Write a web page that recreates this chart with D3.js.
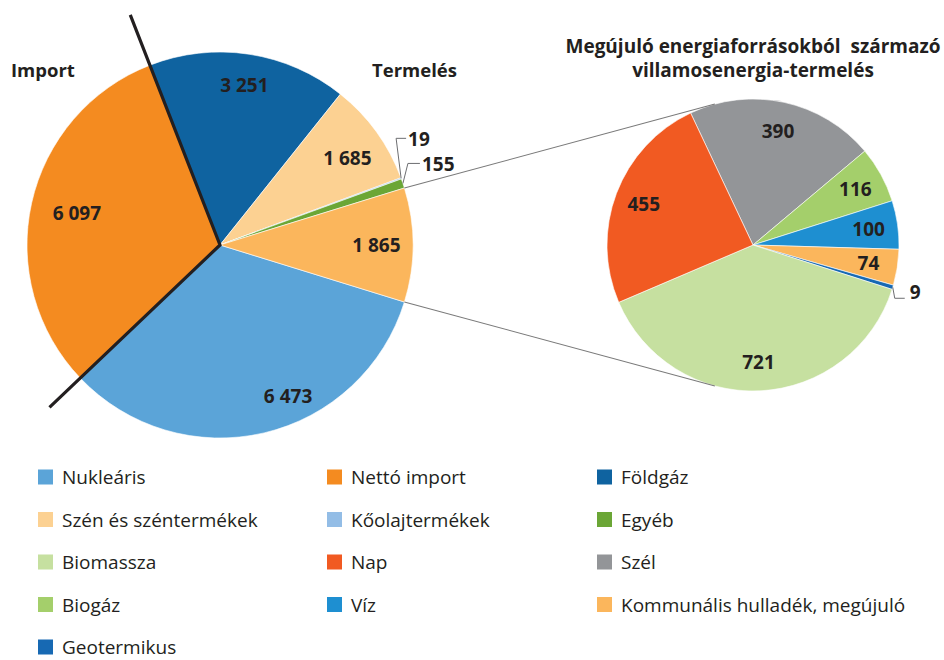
<!DOCTYPE html>
<html><head><meta charset="utf-8">
<script src="https://cdn.jsdelivr.net/npm/d3@7"></script>
<style>
body{margin:0;background:#fff}
text{font-family:"Open Sans","Noto Sans",sans-serif;fill:#231f20}
</style>
</head><body>
<svg id="c" width="944" height="660"></svg>
<script>
// ---- data ----
const mainCategories = ["Nukleáris","Nettó import","Földgáz","Szén és széntermékek","Kőolajtermékek","Egyéb","Megújuló"];
const mainValues = [6473, 6097, 3251, 1685, 19, 155, 1865];
const mainColors = ["#5ba4d8","#f48b20","#0f63a0","#fcd192","#93bde6","#6ba636","#fbb65c"];

const renewCategories = ["Szél","Biogáz","Víz","Kommunális hulladék, megújuló","Geotermikus","Biomassza","Nap"];
const renewValues = [390, 116, 100, 74, 9, 721, 455];
const renewColors = ["#939598","#a4cf6b","#1e8fd1","#fbb65c","#1769b3","#c6e0a0","#f15a22"];

const legendOrder = ["Nukleáris","Nettó import","Földgáz","Szén és széntermékek","Kőolajtermékek","Egyéb",
  "Biomassza","Nap","Szél","Biogáz","Víz","Kommunális hulladék, megújuló","Geotermikus"];

const titleLines = ["Megújuló energiaforrásokból  származó","villamosenergia-termelés"];

// ---- layout ----
const svg = d3.select("#c");
const deg = Math.PI/180;
const M = {cx:220, cy:245, r:193};
const R = {cx:753, cy:245, r:146, start:-25.3};
const fmt = d3.formatLocale({decimal:",", thousands:" ", grouping:[3], currency:["",""]}).format(",");
const numSize = 19;

const colorOf = {};
mainCategories.forEach((c,i)=>colorOf[c]=mainColors[i]);
renewCategories.forEach((c,i)=>colorOf[c]=renewColors[i]);

// main pie: renewables slice centred on 3 o'clock
const total = d3.sum(mainValues);
const renewSpan = 2*Math.PI*mainValues[6]/total;
const mainStart = Math.PI/2 + renewSpan/2;
const mainPie = d3.pie().sort(null).value(d=>d).startAngle(mainStart).endAngle(mainStart+2*Math.PI);
const mainArcs = mainPie(mainValues);
const mainArc = d3.arc().innerRadius(0).outerRadius(M.r);

const gM = svg.append("g").attr("transform",`translate(${M.cx},${M.cy})`);
gM.selectAll("path").data(mainArcs).join("path")
  .attr("d", mainArc).attr("fill",(d,i)=>mainColors[i])
  .attr("stroke","#fff").attr("stroke-width",0.6);

// right pie
const renewPie = d3.pie().sort(null).value(d=>d).startAngle(R.start*deg).endAngle(R.start*deg+2*Math.PI);
const renewArcs = renewPie(renewValues);
const renewArc = d3.arc().innerRadius(0).outerRadius(R.r);
const gR = svg.append("g").attr("transform",`translate(${R.cx},${R.cy})`);
gR.selectAll("path").data(renewArcs).join("path")
  .attr("d", renewArc).attr("fill",(d,i)=>renewColors[i])
  .attr("stroke","#fff").attr("stroke-width",0.6);

// helpers
function polar(cx,cy,r,a){ return [cx + r*Math.sin(a), cy - r*Math.cos(a)]; }

// connector tangent lines from renewables slice edges to right pie
const ra = mainArcs[6];
function tangent(P, upper){
  const dx=P[0]-R.cx, dy=P[1]-R.cy, d=Math.hypot(dx,dy);
  const th=Math.atan2(dy,dx), al=Math.acos(R.r/d);
  const c1=[R.cx+R.r*Math.cos(th+al), R.cy+R.r*Math.sin(th+al)];
  const c2=[R.cx+R.r*Math.cos(th-al), R.cy+R.r*Math.sin(th-al)];
  return upper ? (c1[1]<c2[1]?c1:c2) : (c1[1]>c2[1]?c1:c2);
}
const pUp = polar(M.cx,M.cy,M.r,ra.startAngle);
const pDn = polar(M.cx,M.cy,M.r,ra.endAngle);
[[pUp,tangent(pUp,true)],[pDn,tangent(pDn,false)]].forEach(s=>{
  svg.append("line").attr("x1",s[0][0]).attr("y1",s[0][1]).attr("x2",s[1][0]).attr("y2",s[1][1])
    .attr("stroke","#7a7a7a").attr("stroke-width",1.1);
});

// black divider between import and production
const aImpStart = mainArcs[1].startAngle, aImpEnd = mainArcs[1].endAngle;
const e1 = polar(M.cx,M.cy,M.r*1.22,aImpStart), e2 = polar(M.cx,M.cy,M.r*1.28,aImpEnd);
svg.append("path").attr("d",`M${e1[0]},${e1[1]}L${M.cx},${M.cy}L${e2[0]},${e2[1]}`)
  .attr("fill","none").attr("stroke","#231f20").attr("stroke-width",3.2);

// main labels
const mainLabelR = [0.86,0.76,0.84,0.8,0,0,0.81];
const mainLabelShift = [-11,0,0,1.5,0,0,0];
mainArcs.forEach((d,i)=>{
  if (mainLabelR[i]===0) return;
  const a=(d.startAngle+d.endAngle)/2 + mainLabelShift[i]*deg;
  const p=polar(M.cx,M.cy,M.r*mainLabelR[i],a);
  svg.append("text").attr("x",p[0]).attr("y",p[1]).attr("text-anchor","middle")
    .attr("dominant-baseline","central").attr("font-weight","bold").attr("font-size",numSize)
    .text(fmt(mainValues[i]));
});
// leader labels for the tiny main slices
const leaders = [{i:4, dx:-5, dy:-40, h:10},{i:5, dx:5, dy:-20, h:12}];
leaders.forEach(L=>{
  const d=mainArcs[L.i]; const a=(d.startAngle+d.endAngle)/2;
  const p=polar(M.cx,M.cy,M.r,a);
  const q=[p[0]+L.dx,p[1]+L.dy], s=[q[0]+L.h,q[1]];
  svg.append("path").attr("d",`M${p[0]},${p[1]}L${q[0]},${q[1]}L${s[0]},${s[1]}`)
    .attr("fill","none").attr("stroke","#6d6e71").attr("stroke-width",1);
  svg.append("text").attr("x",s[0]+2).attr("y",s[1]+1).attr("dominant-baseline","central")
    .attr("font-weight","bold").attr("font-size",numSize).text(fmt(mainValues[L.i]));
});

// right labels
renewArcs.forEach((d,i)=>{
  const a=(d.startAngle+d.endAngle)/2;
  if (renewValues[i] < 20){
    const p=polar(R.cx,R.cy,R.r,a);
    const q=[p[0]+2,p[1]+11], s=[q[0]+10,q[1]];
    svg.append("path").attr("d",`M${p[0]},${p[1]}L${q[0]},${q[1]}L${s[0]},${s[1]}`)
      .attr("fill","none").attr("stroke","#6d6e71").attr("stroke-width",1);
    svg.append("text").attr("x",s[0]+5).attr("y",s[1]-6).attr("dominant-baseline","central")
      .attr("font-weight","bold").attr("font-size",numSize).text(fmt(renewValues[i]));
    return;
  }
  const p=polar(R.cx,R.cy,R.r*0.8,a);
  svg.append("text").attr("x",p[0]).attr("y",p[1]).attr("text-anchor","middle")
    .attr("dominant-baseline","central").attr("font-weight","bold").attr("font-size",numSize)
    .text(fmt(renewValues[i]));
});

// section titles
svg.append("text").attr("x",11).attr("y",77).attr("font-weight","bold").attr("font-size",18.5).text("Import");
svg.append("text").attr("x",372).attr("y",77).attr("font-weight","bold").attr("font-size",18.5).text("Termelés");
titleLines.forEach((t,i)=>{
  svg.append("text").attr("x",R.cx).attr("y",53+i*24).attr("text-anchor","middle")
    .attr("font-weight","bold").attr("font-size",19).attr("xml:space","preserve")
    .style("white-space","pre").text(t);
});

// legend
const colX = [38, 327, 597], rowY0 = 477, rowH = 42.5, sq = 15;
const lg = svg.append("g");
legendOrder.forEach((name,k)=>{
  const c=k%3, r=Math.floor(k/3);
  const x=colX[c], y=rowY0+r*rowH;
  lg.append("rect").attr("x",x).attr("y",y-sq/2).attr("width",sq).attr("height",sq).attr("fill",colorOf[name]);
  lg.append("text").attr("x",x+24).attr("y",y).attr("dominant-baseline","central")
    .attr("font-size",19).text(name);
});
</script>
</body></html>
